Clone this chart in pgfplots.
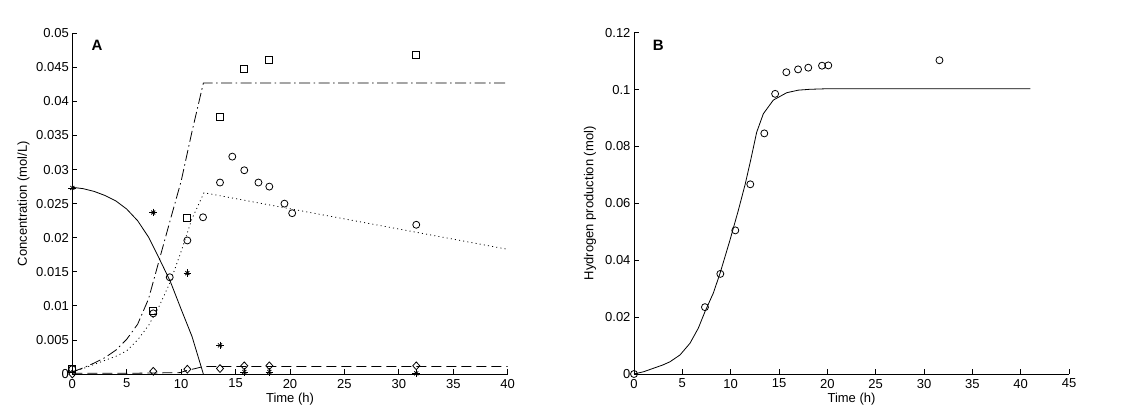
\documentclass[border=0pt]{standalone}
\usepackage{fontspec}
\setmainfont{Liberation Sans}
\usepackage{pgfplots}
\pgfplotsset{compat=1.18}
\begin{document}
\begin{tikzpicture}
\useasboundingbox (0,0) rectangle (1122pt,420pt);
\pgfplotsset{
  mystyle/.style={
    scale only axis,
    anchor=south west,
    axis x line*=bottom,
    axis y line*=left,
    axis line style={-, line width=0.8pt, black},
    every outer x axis line/.append style={-},
    every outer y axis line/.append style={-},
    scaled x ticks=false,
    scaled y ticks=false,
    tick align=inside,
    major tick length=4.5pt,
    tick style={line width=0.8pt, black},
    ticklabel style={font=\fontsize{13}{15}\selectfont},
    xticklabel style={yshift=-1.5pt},
    label style={font=\fontsize{13}{15}\selectfont},
    xlabel style={at={(axis description cs:0.5,-0.075)}, anchor=center},
    every axis plot/.append style={line width=0.8pt, black},
    clip=false,
  },
  mk/.style={only marks, mark options={solid, line width=0.8pt}},
}
% ---------------- Panel A ----------------
\begin{axis}[mystyle,
  at={(72.3pt,46pt)}, width=435.4pt, height=340.7pt,
  xmin=0, xmax=40, ymin=0, ymax=0.05,
  xtick={0,5,10,15,20,25,30,35,40},
  xticklabels={0,5,10,15,20,25,30,35,40},
  ytick={0,0.005,0.01,0.015,0.02,0.025,0.03,0.035,0.04,0.045,0.05},
  yticklabels={0,0.005,0.01,0.015,0.02,0.025,0.03,0.035,0.04,0.045,0.05},
  xlabel={Time (h)},
  ylabel={Concentration (mol/L)},
  ylabel style={at={(axis description cs:-0.112,0.5)}, anchor=center},
]
% model curves
\addplot[solid] table {
0 0.0274
1 0.0272
2 0.0268
3 0.0262
4 0.0254
5 0.0242
6 0.0225
7 0.0201
8 0.0169
9 0.0136
10 0.0095
11 0.0055
12.04 0.0
};
\addplot[dash pattern=on 11pt off 3.5pt on 1.5pt off 3.5pt] table {
0 0.0003
1 0.0009
2 0.0016
3 0.0024
4 0.0035
5 0.0051
6 0.0073
7 0.0110
8 0.0168
9 0.0226
10 0.0283
11 0.0356
12.04 0.0427
40 0.0427
};
\addplot[dash pattern=on 1pt off 3.2pt] table {
0 0.0003
1 0.0008
2 0.0014
3 0.0020
4 0.0026
5 0.0034
6 0.0050
7 0.0071
8 0.0100
9 0.0135
10 0.0180
11 0.0228
12.1 0.0266
40 0.0183
};
\addplot[dash pattern=on 10pt off 5pt] table {
0 0.0001
5 0.0001
9.9 0.0002
10.5 0.0005
11.3 0.0008
12.04 0.0011
40 0.0011
};
% data: substrate (asterisk = plus + cross)
\pgfplotstableread{
x y
0 0.0273
7.44 0.0237
10.57 0.0148
13.57 0.0042
15.8 0.0003
18.1 0.0003
31.6 0.0001
}\substrate
\addplot[mk, mark=+, mark size=3.8pt] table {\substrate};
\addplot[mk, mark=x, mark size=2.8pt] table {\substrate};
\addplot[mk, mark=o, mark size=3.5pt] table {
0 0.0007
7.44 0.0089
8.95 0.0142
10.57 0.0196
12.01 0.0230
13.57 0.0281
14.7 0.0319
15.8 0.0299
17.1 0.0281
18.1 0.0275
19.49 0.0250
20.2 0.0236
31.6 0.0219
};
\addplot[mk, mark=square, mark size=3.5pt] table {
0 0.0007
7.44 0.0092
10.57 0.0229
13.57 0.0378
15.8 0.0448
18.1 0.0461
31.6 0.0468
};
\addplot[only marks, mark=diamond, mark size=3.9pt, mark options={solid, line width=0.8pt, xscale=1.2}] table {
0 0.0000
7.44 0.0004
10.57 0.0007
13.57 0.0008
15.8 0.0012
18.1 0.0012
31.6 0.0012
};
\node[font=\bfseries\fontsize{15}{17}\selectfont] at (axis cs:2.27,0.0483) {A};
\end{axis}
% ---------------- Panel B ----------------
\begin{axis}[mystyle,
  at={(634pt,46pt)}, width=435pt, height=341.3pt,
  xmin=0, xmax=45, ymin=0, ymax=0.12,
  xtick={0,5,10,15,20,25,30,35,40,45},
  xticklabels={0,5,10,15,20,25,30,35,40,45},
  ytick={0,0.02,0.04,0.06,0.08,0.1,0.12},
  yticklabels={0,0.02,0.04,0.06,0.08,0.1,0.12},
  xlabel={Time (h)},
  ylabel={Hydrogen production (mol)},
  ylabel style={at={(axis description cs:-0.101,0.5)}, anchor=center},
]
\addplot[solid] table {
0 0
1 0.0008
2 0.0020
3 0.0032
3.72 0.0043
4.76 0.0067
5.79 0.0108
6.65 0.0161
7.34 0.0219
8.2 0.0284
8.9 0.0354
9.93 0.0471
10.79 0.0575
11.5 0.0667
12.07 0.0752
12.69 0.0850
13.38 0.0915
14.41 0.0963
15.8 0.0989
17 0.0998
18.2 0.1001
20 0.1003
41 0.1003
};
\addplot[mk, mark=o, mark size=3.5pt] table {
0 0
7.34 0.0235
8.93 0.0352
10.48 0.0505
12.03 0.0667
13.48 0.0846
14.6 0.0985
15.76 0.1061
16.97 0.1071
18.03 0.1077
19.45 0.1084
20.1 0.1085
31.6 0.1103
};
\node[font=\bfseries\fontsize{15}{17}\selectfont] at (axis cs:2.5,0.1157) {B};
\end{axis}
\end{tikzpicture}
\end{document}
